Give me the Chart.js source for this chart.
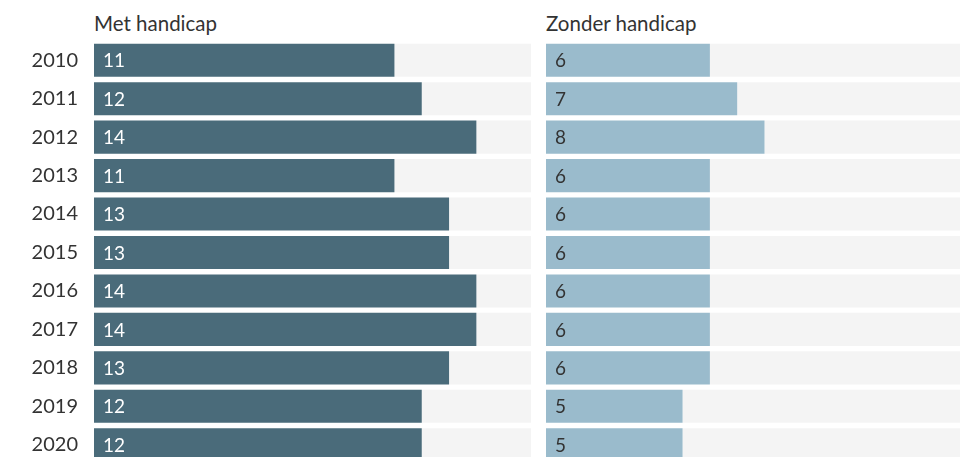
<!DOCTYPE html>
<html>
<head>
<meta charset="utf-8">
<script src="https://cdn.jsdelivr.net/npm/chart.js@4/dist/chart.umd.min.js"></script>
<style>
  html, body { margin: 0; padding: 0; background: #fff; }
  body { width: 960px; height: 457px; overflow: hidden; position: relative; font-family: Lato, sans-serif; }
  .head { position: absolute; top: 11px; font-size: 20.5px; color: #333; }
  #leftWrap { position: absolute; left: 0; top: 0; width: 540px; height: 470px; }
  #rightWrap { position: absolute; left: 546px; top: 0; width: 437px; height: 470px; }
</style>
</head>
<body>
<div class="head" style="left:94px">Met handicap</div>
<div class="head" style="left:546px">Zonder handicap</div>
<div id="leftWrap"><canvas id="leftChart"></canvas></div>
<div id="rightWrap"><canvas id="rightChart"></canvas></div>
<script>
const years = ['2010', '2011', '2012', '2013', '2014', '2015', '2016', '2017', '2018', '2019', '2020'];
const metHandicap = [11, 12, 14, 11, 13, 13, 14, 14, 13, 12, 12];
const zonderHandicap = [6, 7, 8, 6, 6, 6, 6, 6, 6, 5, 5];
const scaleMax = 16;

Chart.defaults.font.family = 'Lato, sans-serif';
Chart.defaults.animation = false;

// writes the value inside each bar, near its base
const valueLabels = {
    id: 'valueLabels',
    afterDatasetsDraw(chart, args, opts) {
        const ctx = chart.ctx;
        const meta = chart.getDatasetMeta(0);
        const values = chart.data.datasets[0].data;
        ctx.save();
        ctx.font = '19px Lato, sans-serif';
        ctx.fillStyle = opts.color;
        ctx.textAlign = 'left';
        ctx.textBaseline = 'middle';
        meta.data.forEach(function(bar, i) {
            ctx.fillText(values[i], chart.chartArea.left + 9, bar.y + 1);
        });
        ctx.restore();
    }
};

function makeChart(canvasId, values, barColor, textColor, showYears) {
    const ctx = document.getElementById(canvasId).getContext('2d');
    return new Chart(ctx, {
        type: 'bar',
        data: {
            labels: years,
            datasets: [
                {
                    data: values,
                    backgroundColor: barColor,
                    borderWidth: 0,
                    categoryPercentage: 1,
                    barPercentage: 0.86
                },
                {
                    // remaining part of the track up to the scale maximum
                    data: values.map(v => scaleMax - v),
                    backgroundColor: '#f4f4f4',
                    borderWidth: 0,
                    categoryPercentage: 1,
                    barPercentage: 0.86
                }
            ]
        },
        options: {
            indexAxis: 'y',
            responsive: true,
            maintainAspectRatio: false,
            layout: { padding: { top: 41, bottom: 6, left: 0, right: showYears ? 9 : 0 } },
            plugins: {
                legend: { display: false },
                tooltip: { enabled: false },
                valueLabels: { color: textColor }
            },
            scales: {
                x: {
                    stacked: true,
                    min: 0,
                    max: scaleMax,
                    display: false
                },
                y: {
                    stacked: true,
                    display: showYears,
                    grid: { display: false, drawTicks: false },
                    border: { display: false },
                    ticks: {
                        color: '#333',
                        padding: 16,
                        font: { size: 20 }
                    },
                    afterFit: function(scale) {
                        if (showYears) scale.width = 94;
                        scale.paddingTop = 0;
                        scale.paddingBottom = 0;
                    }
                }
            }
        },
        plugins: [valueLabels]
    });
}

const leftChart = makeChart('leftChart', metHandicap, '#4a6b7a', '#ffffff', true);
const rightChart = makeChart('rightChart', zonderHandicap, '#9abbcc', '#333333', false);
</script>
</body>
</html>
